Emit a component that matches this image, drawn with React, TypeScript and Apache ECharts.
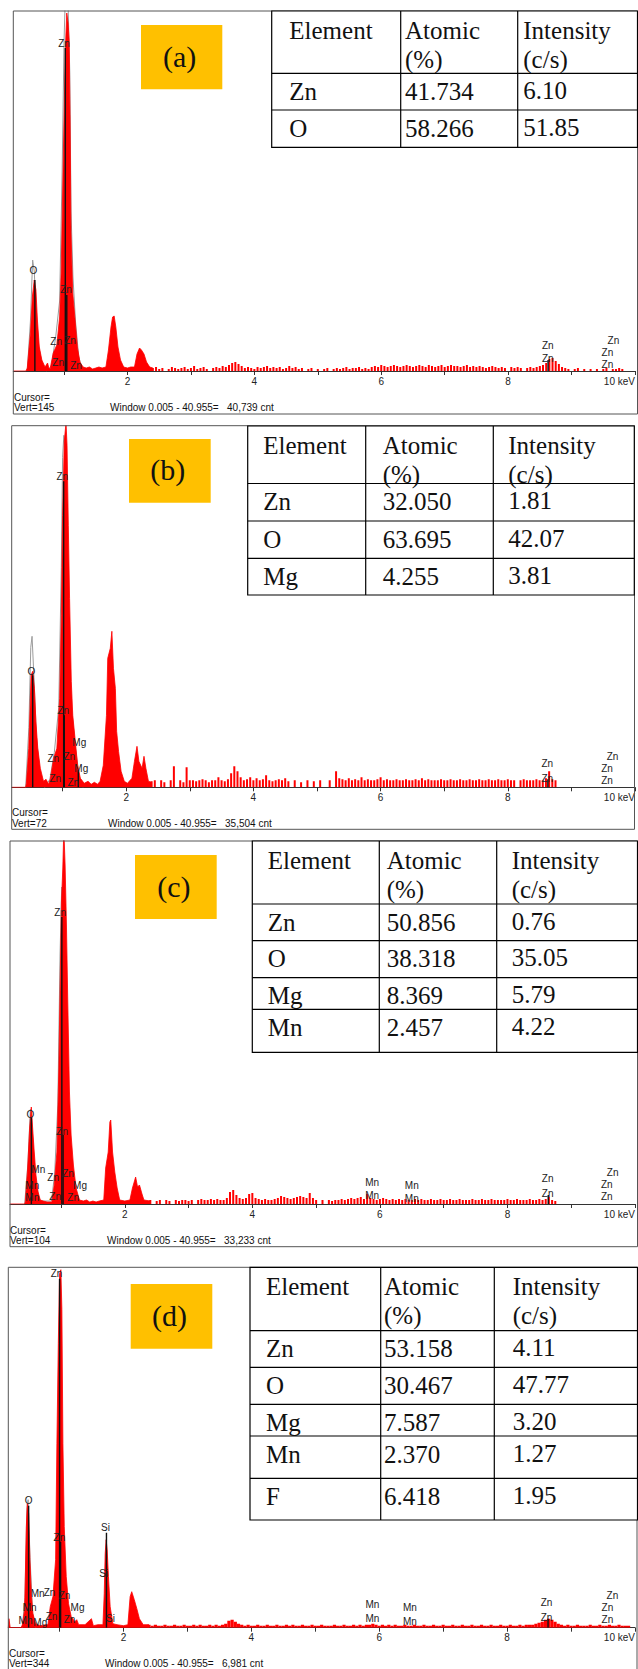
import React, { useEffect, useRef } from "react";
import * as echarts from "echarts";

// ---------------- DATA ----------------
const panelTags = ["(a)", "(b)", "(c)", "(d)"];

const elementsA = ["Zn", "O"];
const atomicA = ["41.734", "58.266"];
const intensityA = ["6.10", "51.85"];
const elementsB = ["Zn", "O", "Mg"];
const atomicB = ["32.050", "63.695", "4.255"];
const intensityB = ["1.81", "42.07", "3.81"];
const elementsC = ["Zn", "O", "Mg", "Mn"];
const atomicC = ["50.856", "38.318", "8.369", "2.457"];
const intensityC = ["0.76", "35.05", "5.79", "4.22"];
const elementsD = ["Zn", "O", "Mg", "Mn", "F"];
const atomicD = ["53.158", "30.467", "7.587", "2.370", "6.418"];
const intensityD = ["4.11", "47.77", "3.20", "1.27", "1.95"];

const vertTexts = ["Vert=145", "Vert=72", "Vert=104", "Vert=344"];
const windowTexts = [
  "Window 0.005 - 40.955=\u00a0\u00a0 40,739 cnt",
  "Window 0.005 - 40.955=\u00a0\u00a0 35,504 cnt",
  "Window 0.005 - 40.955=\u00a0\u00a0 33,233 cnt",
  "Window 0.005 - 40.955=\u00a0\u00a0 6,981 cnt",
];

const xTickValues = [1, 2, 3, 4, 5, 6, 7, 8, 9, 10];
const xLabelValues = [2, 4, 6, 8, 10];

// peak region: [keV, counts]
const peaksA = [[0.2,0],[0.4,0],[0.42,3],[0.47,38],[0.5,74],[0.53,91],[0.557,81],[0.58,51],[0.61,24],[0.65,11],[0.7,4],[0.74,8],[0.76,3],[0.78,2],[0.83,18],[0.886,26],[0.93,54],[0.954,98],[0.98,188],[1.0,254],[1.02,321],[1.043,358],[1.064,348],[1.08,331],[1.095,254],[1.11,138],[1.137,78],[1.17,54],[1.21,24],[1.25,9],[1.3,4],[1.35,3],[1.4,4],[1.45,2],[1.5,3],[1.55,4],[1.6,3],[1.66,4],[1.7,21],[1.74,44],[1.765,54],[1.79,55],[1.816,44],[1.85,24],[1.89,11],[1.94,4],[2.0,3],[2.05,4],[2.11,4],[2.15,17],[2.19,23],[2.22,21],[2.26,17],[2.3,9],[2.35,4],[2.4,3]];
const peaksB = [[0.2,0],[0.42,0],[0.43,4],[0.468,39],[0.505,112],[0.53,116],[0.557,99],[0.58,66],[0.61,39],[0.65,19],[0.7,6],[0.74,8],[0.78,3],[0.81,9],[0.86,29],[0.91,39],[0.954,89],[0.98,172],[1.0,272],[1.027,346],[1.054,365],[1.07,342],[1.09,262],[1.11,189],[1.137,106],[1.16,72],[1.2,46],[1.236,22],[1.28,9],[1.34,4],[1.4,6],[1.45,3],[1.5,5],[1.55,3],[1.59,6],[1.64,22],[1.69,72],[1.71,129],[1.75,139],[1.775,156],[1.8,119],[1.83,99],[1.85,56],[1.88,36],[1.92,16],[1.97,6],[2.02,4],[2.09,9],[2.13,26],[2.17,41],[2.2,26],[2.25,19],[2.28,31],[2.31,19],[2.35,6],[2.4,5]];
const peaksC = [[0.2,0],[0.43,0],[0.44,2],[0.477,36],[0.508,76],[0.534,97],[0.555,76],[0.58,52],[0.607,29],[0.64,12],[0.675,4],[0.72,3],[0.78,2],[0.857,2],[0.893,19],[0.935,52],[0.966,136],[0.986,219],[1.007,302],[1.028,336],[1.044,375],[1.064,339],[1.085,279],[1.106,202],[1.132,112],[1.158,69],[1.194,39],[1.236,16],[1.29,4],[1.35,3],[1.4,4],[1.45,2],[1.5,3],[1.55,2],[1.6,3],[1.67,4],[1.7,36],[1.74,52],[1.766,82],[1.78,84],[1.808,52],[1.843,32],[1.88,16],[1.92,4],[2.0,3],[2.08,4],[2.12,16],[2.17,27],[2.2,17],[2.23,19],[2.27,10],[2.3,4],[2.4,3]];
const peaksD = [[0.2,0],[0.21,9],[0.23,0],[0.4,0],[0.42,3],[0.456,18],[0.482,101],[0.497,124],[0.518,114],[0.538,68],[0.56,34],[0.585,14],[0.627,4],[0.7,2],[0.78,3],[0.82,3],[0.856,21],[0.898,31],[0.94,68],[0.96,184],[0.982,284],[1.002,354],[1.022,358],[1.038,318],[1.054,184],[1.075,101],[1.106,51],[1.142,24],[1.184,11],[1.24,6],[1.27,8],[1.3,3],[1.4,3],[1.5,9],[1.53,2],[1.6,3],[1.68,3],[1.7,34],[1.715,74],[1.73,88],[1.746,78],[1.766,51],[1.793,21],[1.835,4],[1.9,3],[2.0,2],[2.07,3],[2.105,31],[2.13,36],[2.17,28],[2.21,19],[2.25,9],[2.31,3],[2.4,3]];

// grey reference outline [keV, counts]
const greyA = [[0.42,0],[0.47,50],[0.505,111],[0.53,100],[0.56,60],[0.6,25],[0.66,4],[0.72,0],[0.8,5],[0.87,35],[0.93,70],[0.97,200],[1.0,330],[1.02,375],[1.06,375],[1.09,300],[1.11,160],[1.14,95],[1.18,50],[1.23,15],[1.28,2]];
const greyB = [[0.42,0],[0.47,60],[0.5,140],[0.52,151],[0.55,110],[0.59,50],[0.65,10],[0.72,0],[0.8,8],[0.87,35],[0.94,80],[0.98,220],[1.0,330],[1.02,352],[1.045,330],[1.07,250],[1.1,150],[1.14,80],[1.2,40],[1.27,8],[1.32,0]];
const greyC = [[0.43,0],[0.48,40],[0.52,95],[0.55,70],[0.6,25],[0.66,3],[0.85,3],[0.9,30],[0.95,100],[0.985,250],[1.01,317],[1.035,300],[1.06,240],[1.09,160],[1.13,80],[1.18,35],[1.25,5]];
const greyD = [[0.42,0],[0.46,30],[0.49,118],[0.51,128],[0.54,70],[0.58,15],[0.63,0]];

// background channels from 2.40 keV, every 0.05 keV
const BG_START = 2.4;
const BG_STEP = 0.05;
const bgA = [3,4,2,3,0,2,4,3,2,3, 4,2,3,5,2,3,4,2,0,3, 4,3,5,4,6,8,9,7,5,3, 4,3,2,4,3,4,5,3,4,3, 4,2,3,5,3,4,2,3,0,2, 3,0,2,0,2,3,0,2,3,2, 3,4,2,3,3,4,2,3,2,4, 5,4,6,5,4,5,6,5,4,5, 6,5,4,5,6,5,4,6,5,4, 5,6,4,5,6,5,5,4,5,6, 4,5,4,5,4,3,4,5,4,3, 4,3,0,4,3,4,3,0,3,4, 3,4,5,6,8,12,13,10,7,4, 3,2,0,2,3,0,2,0,2,0, 2,0,2,3,0,2,2,3,2,0, 0];
const bgB = [6,7,0,7,5,0,7,21,0,7, 5,20,7,7,6,7,8,7,5,7, 7,10,7,6,8,14,21,16,10,7, 8,10,7,9,7,8,12,7,6,7, 8,7,9,6,0,7,0,5,0,7, 0,6,0,7,0,0,7,0,16,9, 8,7,9,7,8,7,10,7,8,7, 7,8,10,7,8,7,7,8,7,7, 8,7,7,8,7,9,7,8,7,7, 7,8,7,7,8,7,7,8,7,7, 8,7,7,8,7,7,8,7,7,8, 7,7,8,7,7,0,7,8,7,7, 7,8,7,7,9,16,8,7,0,0, 0,0,0,0,0,0,0,0,0,0, 0,0,0,0,0,0,0,0,0,0, 0];
const bgC = [4,0,3,4,0,4,3,0,4,3, 4,4,3,4,0,4,5,4,4,5, 4,5,4,4,6,12,14,9,6,5, 6,10,11,6,5,4,5,4,4,5, 6,8,7,6,5,6,7,8,7,6, 11,6,4,0,4,0,4,3,4,4, 5,4,5,6,5,6,7,5,10,6, 5,4,5,6,5,4,5,4,5,4, 5,4,4,5,4,5,4,4,5,4, 4,5,4,4,5,4,4,5,4,4, 4,5,4,4,5,4,4,5,4,4, 4,4,5,4,4,5,4,4,4,5, 4,4,5,4,5,7,4,3,0,0, 0,0,0,0,0,0,0,0,0,0, 0,0,0,0,0,0,0,0,0,0, 0];
const bgD = [3,2,3,2,2,3,2,2,3,2, 2,3,2,2,3,2,3,2,2,3, 2,3,2,3,4,7,8,6,4,3, 2,3,2,2,3,2,2,3,2,2, 3,2,2,3,2,3,2,2,3,2, 2,3,2,2,3,2,2,2,3,2, 2,3,2,2,3,2,3,2,3,3, 4,3,2,3,2,3,2,3,2,2, 3,2,2,3,2,2,3,2,2,3, 2,2,3,2,2,3,2,2,3,2, 2,3,2,2,3,2,2,3,2,2, 3,2,2,3,2,2,3,2,3,3, 3,4,5,6,8,9,8,6,4,3, 2,3,2,2,3,2,2,2,3,2, 2,3,2,2,3,2,2,3,2,2, 2];

// element marker lines [keV, counts]
const markA = [[1.02,323],[0.54,91],[1.043,76],[8.63,11]];
const markB = [[1.017,306],[0.53,112],[1.027,72],[1.247,17],[8.63,8]];
const markC = [[1.013,287],[0.535,86],[1.033,69],[8.64,9]];
const markD = [[1.002,349],[0.518,122],[1.018,86],[1.735,95],[8.64,9]];

// element labels [keV, counts, name]
const labelsA = [[1.0,328,"Zn"],[0.515,101,"O"],[1.032,82,"Zn"],[0.875,30,"Zn"],[1.095,31,"Zn"],[0.907,9,"Zn"],[1.19,6,"Zn"],[8.625,26,"Zn"],[8.625,13,"Zn"],[9.66,31,"Zn"],[9.565,19,"Zn"],[9.565,7,"Zn"]];
const labelsB = [[0.996,311,"Zn"],[0.51,116,"O"],[1.012,77,"Zn"],[1.263,45,"Mg"],[0.855,29,"Zn"],[1.106,31,"Zn"],[1.294,19,"Mg"],[0.886,9,"Zn"],[1.169,5,"Zn"],[8.62,24,"Zn"],[8.62,9,"Zn"],[9.647,31,"Zn"],[9.56,19,"Zn"],[9.56,7,"Zn"]];
const labelsC = [[0.986,292,"Zn"],[0.519,90,"O"],[1.018,73,"Zn"],[0.644,35,"Mn"],[0.877,27,"Zn"],[1.111,31,"Zn"],[0.55,19,"Mn"],[1.298,19,"Mg"],[0.55,7,"Mn"],[0.908,8,"Zn"],[1.19,7,"Zn"],[5.88,22,"Mn"],[5.88,9,"Mn"],[6.5,19,"Mn"],[6.5,6,"Mn"],[8.63,26,"Zn"],[8.63,11,"Zn"],[9.65,32,"Zn"],[9.557,20,"Zn"],[9.557,8,"Zn"]];
const labelsD = [[0.955,354,"Zn"],[0.518,127,"O"],[1.0,90,"Zn"],[1.72,100,"Si"],[1.69,54,"Si"],[0.659,34,"Mn"],[0.846,35,"Zn"],[1.08,32,"Zn"],[0.534,20,"Mn"],[1.283,20,"Mg"],[0.47,7,"Mn"],[0.7,5,"Mg"],[0.877,11,"Zn"],[1.158,8,"Zn"],[1.798,9,"Si"],[5.894,23,"Mn"],[5.894,9,"Mn"],[6.48,20,"Mn"],[6.48,6,"Mn"],[8.617,25,"Zn"],[8.617,10,"Zn"],[9.647,32,"Zn"],[9.569,20,"Zn"],[9.569,8,"Zn"]];

// ---------------- LAYOUT (positions / styles only) ----------------
const SANS = "'Liberation Sans', Arial, sans-serif";
const SERIF = "'Liberation Serif', 'Times New Roman', serif";
const RED = "#ff0000";

const panels = [
  { frame: [13.3, 11, 637.5, 414], grid: [13.3, 11, 624.4, 360], box: [141, 25, 81.3, 64.3],
    cols: [271.7, 400.7, 517.7, 637.5], textX: [289.3, 405, 523.3], rows: [11, 73.3, 110, 147.3],
    info: [14, 397, 407, 110], barW: 2,
    peaks: peaksA, grey: greyA, bg: bgA, mark: markA, labels: labelsA,
    els: elementsA, at: atomicA, it: intensityA },
  { frame: [11.7, 425.7, 634.5, 829.3], grid: [11.7, 425.7, 624.3, 361.6], box: [129, 439, 81.7, 63.7],
    cols: [247.7, 365.7, 493.3, 634.3], textX: [263.3, 382.7, 508.3], rows: [426, 483.5, 521, 558.3, 595],
    info: [12, 812.7, 823, 108], barW: 2,
    peaks: peaksB, grey: greyB, bg: bgB, mark: markB, labels: labelsB,
    els: elementsB, at: atomicB, it: intensityB },
  { frame: [10, 841, 637.5, 1246.7], grid: [10, 841, 628.4, 363], box: [135, 855, 81.7, 64],
    cols: [252.3, 379.3, 496.7, 637.5], textX: [267.7, 386.7, 511.7], rows: [841, 904, 940.7, 977.7, 1009.3, 1052.3],
    info: [10, 1230, 1240.7, 107], barW: 2,
    peaks: peaksC, grey: greyC, bg: bgC, mark: markC, labels: labelsC,
    els: elementsC, at: atomicC, it: intensityC },
  { frame: [8.3, 1267.3, 637, 1690], grid: [8.3, 1267.3, 628.3, 360.4], box: [130.7, 1284, 81.6, 64.7],
    cols: [250, 380.7, 494.3, 637.5], textX: [266, 384, 512.7], rows: [1267.3, 1330.7, 1367.3, 1404.3, 1436, 1478.3, 1520],
    info: [9, 1653, 1663, 105], barW: 3.2,
    peaks: peaksD, grey: greyD, bg: bgD, mark: markD, labels: labelsD,
    els: elementsD, at: atomicD, it: intensityD },
];

function txt(text: string, x: number, y: number, font: string, align = "left", z = 120) {
  return {
    type: "text", z, silent: true,
    style: { text, x, y, font, fill: "#111", align, textAlign: align, verticalAlign: "middle", textVerticalAlign: "middle" },
  };
}

function buildOption() {
  const grid: any[] = [], xAxis: any[] = [], yAxis: any[] = [], series: any[] = [], graphics: any[] = [];

  panels.forEach((p, i) => {
    const [gl, gt, gw, gh] = p.grid;
    grid.push({ left: gl, top: gt, width: gw, height: gh, containLabel: false });
    xAxis.push({
      gridIndex: i, type: "value", min: 0.2, max: 10,
      axisLine: { show: true, onZero: false, lineStyle: { color: "#333", width: 1 } },
      axisTick: { show: true, customValues: xTickValues, length: 4, lineStyle: { color: "#333", width: 1 } },
      axisLabel: {
        show: true, customValues: xLabelValues, margin: 5, fontSize: 10, color: "#222", fontFamily: "Liberation Sans",
        formatter: (v: number) => (v === 10 ? "10 keV" : String(v)), alignMaxLabel: "right",
      },
      splitLine: { show: false },
    });
    yAxis.push({ gridIndex: i, type: "value", min: 0, max: gh, show: false });

    series.push({
      type: "line", xAxisIndex: i, yAxisIndex: i, data: p.grey, showSymbol: false, symbol: "none",
      lineStyle: { color: "#9c9c9c", width: 1 }, z: 1, silent: true, clip: true,
    });
    series.push({
      type: "line", xAxisIndex: i, yAxisIndex: i, data: p.peaks, showSymbol: false, symbol: "none",
      lineStyle: { color: RED, width: 0.8 }, areaStyle: { color: RED, opacity: 1 }, z: 2, silent: true, clip: true,
    });
    const bw = p.barW;
    series.push({
      type: "custom", xAxisIndex: i, yAxisIndex: i, clip: true, silent: true, z: 2,
      data: p.bg.map((v, k) => [BG_START + k * BG_STEP, v]),
      encode: { x: 0, y: 1 },
      renderItem: (params: any, api: any) => {
        const x = api.value(0), v = api.value(1);
        const a = api.coord([x, 0]);
        const b = api.coord([x, v]);
        return { type: "rect", shape: { x: a[0] - bw / 2, y: b[1], width: bw, height: a[1] - b[1] }, style: { fill: RED } };
      },
    });
    series.push({
      type: "custom", xAxisIndex: i, yAxisIndex: i, clip: true, silent: true, z: 3,
      data: p.mark, encode: { x: 0, y: 1 },
      renderItem: (params: any, api: any) => {
        const x = api.value(0), v = api.value(1);
        const a = api.coord([x, 0]);
        const b = api.coord([x, v]);
        return { type: "rect", shape: { x: a[0] - 0.7, y: b[1], width: 1.4, height: a[1] - b[1] }, style: { fill: "#111" } };
      },
    });
    const labs = p.labels;
    series.push({
      type: "custom", xAxisIndex: i, yAxisIndex: i, clip: false, silent: true, z: 4,
      data: labs.map((l) => [l[0], l[1]]), encode: { x: 0, y: 1 },
      renderItem: (params: any, api: any) => {
        const c = api.coord([api.value(0), api.value(1)]);
        const t = String(labs[params.dataIndex][2]);
        return {
          type: "text",
          style: { text: t, x: c[0], y: c[1], font: `10px ${SANS}`, fill: "#222", align: "center", verticalAlign: "middle" },
        };
      },
    });

    // frame
    const [fl, ft, fr, fb] = p.frame;
    graphics.push({
      type: "rect", z: 50, silent: true,
      shape: { x: fl, y: ft, width: fr - fl, height: fb - ft },
      style: { fill: "none", stroke: "#555", lineWidth: 1 },
    });

    // info texts
    const [ix, iy1, iy2, wx] = p.info;
    graphics.push(txt("Cursor=", ix, iy1, `10px ${SANS}`));
    graphics.push(txt(vertTexts[i], ix, iy2, `10px ${SANS}`));
    graphics.push(txt(windowTexts[i], wx, iy2, `10px ${SANS}`));

    // label box
    const [bx, by, bwid, bh] = p.box;
    graphics.push({ type: "rect", z: 100, silent: true, shape: { x: bx, y: by, width: bwid, height: bh }, style: { fill: "#ffc000" } });
    graphics.push(txt(panelTags[i], bx + bwid / 2 - 2, by + bh / 2 - 1, `30px ${SERIF}`, "center", 110));

    // table
    const cols = p.cols, rows = p.rows, tx = p.textX;
    const top = rows[0], bottom = rows[rows.length - 1];
    graphics.push({
      type: "rect", z: 100, silent: true,
      shape: { x: cols[0], y: top, width: cols[3] - cols[0], height: bottom - top },
      style: { fill: "#fff", stroke: "#000", lineWidth: 1.2 },
    });
    for (let r = 1; r < rows.length - 1; r++) {
      graphics.push({ type: "line", z: 101, silent: true, shape: { x1: cols[0], y1: rows[r], x2: cols[3], y2: rows[r] }, style: { stroke: "#000", lineWidth: 1.2 } });
    }
    for (let c = 1; c < 3; c++) {
      graphics.push({ type: "line", z: 101, silent: true, shape: { x1: cols[c], y1: top, x2: cols[c], y2: bottom }, style: { stroke: "#000", lineWidth: 1.2 } });
    }
    const tf = `25px ${SERIF}`;
    graphics.push(txt("Element", tx[0], top + 19, tf));
    graphics.push(txt("Atomic", tx[1], top + 19, tf));
    graphics.push(txt("(%)", tx[1], top + 48, tf));
    graphics.push(txt("Intensity", tx[2], top + 19, tf));
    graphics.push(txt("(c/s)", tx[2], top + 48, tf));
    p.els.forEach((e, r) => {
      const cy = rows[r + 1] + 18;
      graphics.push(txt(e, tx[0], cy, tf));
      graphics.push(txt(p.at[r], tx[1], cy, tf));
      graphics.push(txt(p.it[r], tx[2], cy - 1, tf));
    });
  });

  return {
    animation: false,
    backgroundColor: "#fff",
    grid, xAxis, yAxis, series,
    graphic: { elements: graphics },
  };
}

export default function App() {
  const ref = useRef<HTMLDivElement>(null);
  useEffect(() => {
    if (!ref.current) return;
    const chart = echarts.init(ref.current, undefined, { renderer: "svg" });
    chart.setOption(buildOption() as any);
    return () => chart.dispose();
  }, []);
  return <div ref={ref} style={{ position: "absolute", left: 0, top: 0, width: 638, height: 1669 }} />;
}
